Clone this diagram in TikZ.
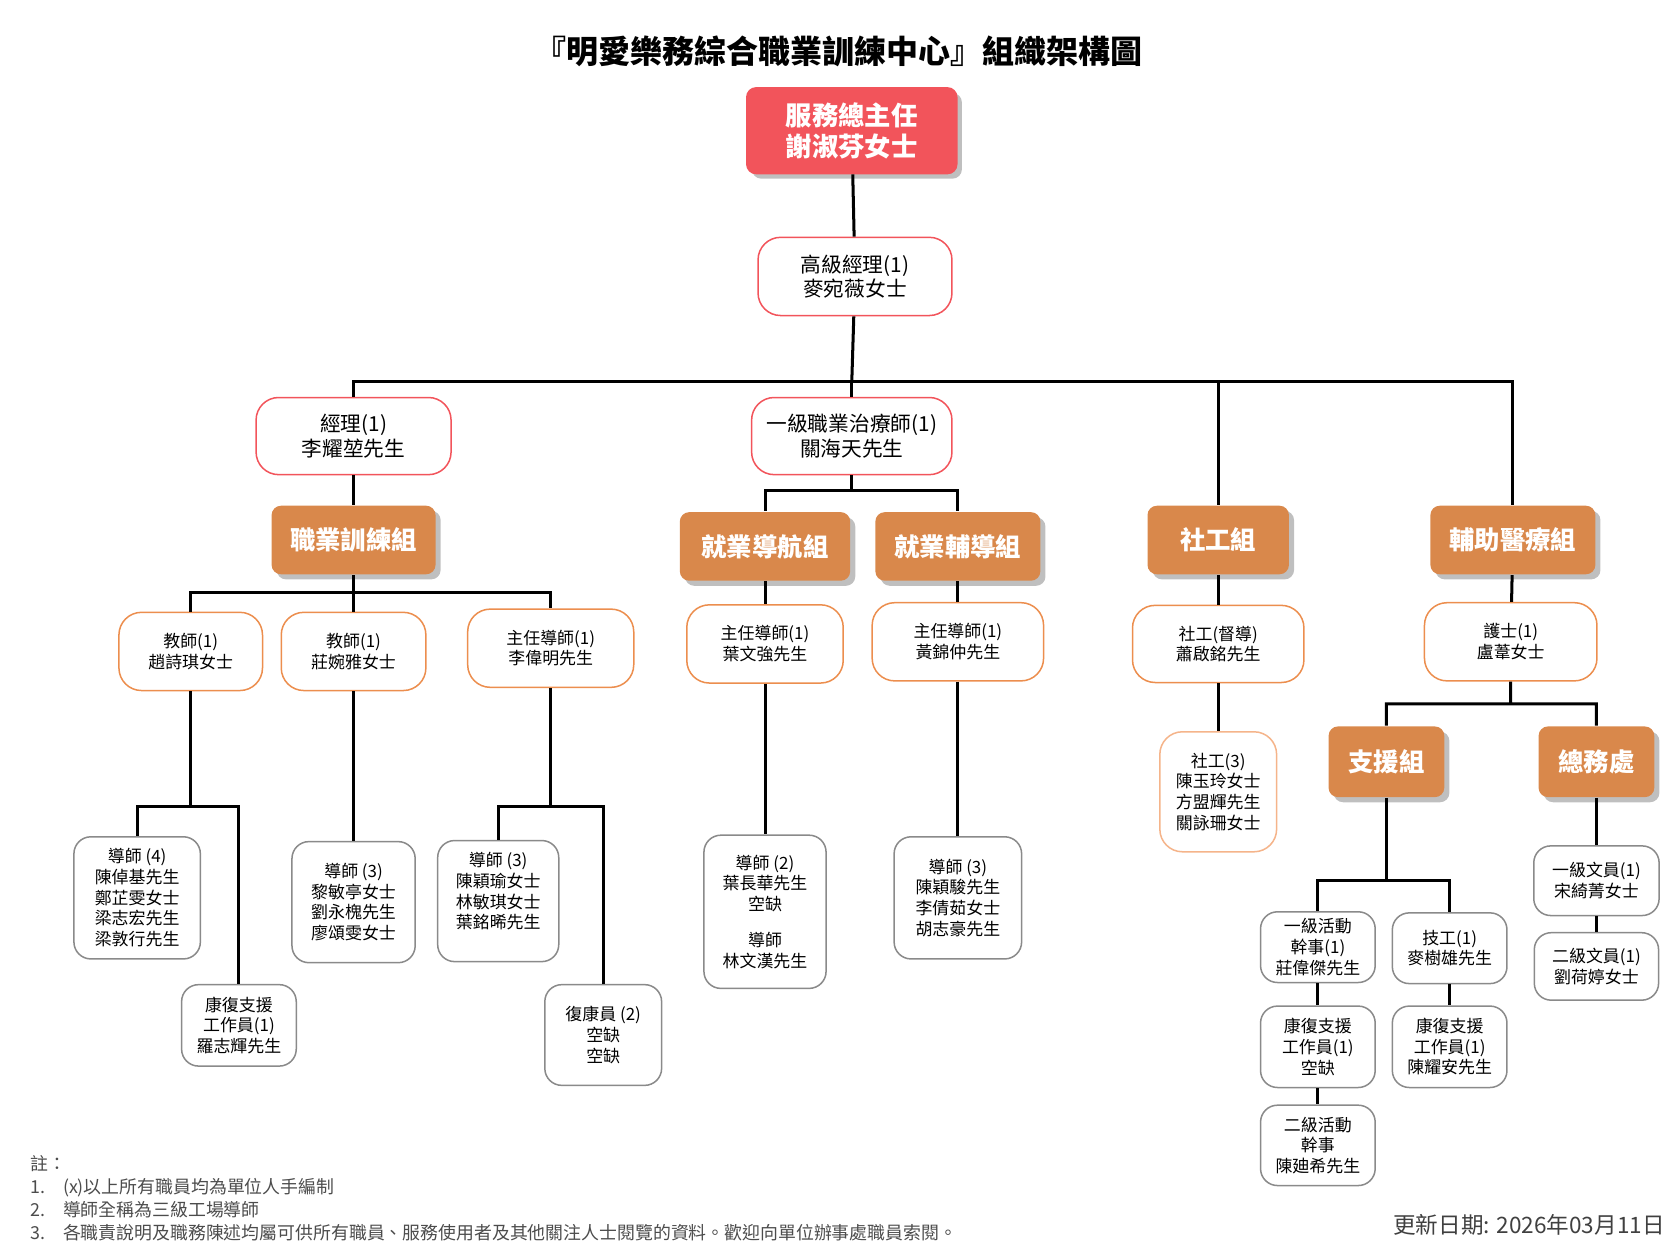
\documentclass[tikz,border=0pt]{standalone}
\usepackage{fontspec}
\setmainfont{Noto Sans CJK TC}
\usetikzlibrary{positioning, shadows}

\definecolor{chief}{HTML}{F2545B}
\definecolor{team}{HTML}{D9884B}
\definecolor{edgeorange}{HTML}{EC8E4E}
\definecolor{edgelight}{HTML}{F5B48A}
\definecolor{edgegray}{HTML}{8A8A8A}

\tikzset{
  box/.style = {draw, fill=white, rounded corners=9pt, align=center, inner sep=2pt,
    font=\fontsize{9}{11}\selectfont, line width=0.8pt},
  chiefbox/.style = {box, draw=chief, fill=chief, text=white, rounded corners=5pt,
    font=\fontsize{14}{16.5}\selectfont\bfseries, drop shadow},
  redbox/.style = {box, draw=chief, font=\fontsize{11}{13}\selectfont, rounded corners=12pt},
  teambox/.style = {box, draw=none, fill=team, text=white, rounded corners=5pt,
    font=\fontsize{13.5}{16}\selectfont\bfseries, drop shadow},
  obox/.style = {box, draw=edgeorange, rounded corners=12pt},
  gbox/.style = {box, draw=edgegray},
  link/.style = {line width=1.6pt}
}

\begin{document}
\begin{tikzpicture}[x=0.02cm, y=-0.02cm]
  \useasboundingbox (0,0) rectangle (1568,1176);

  \node (title) at (783,48) {\fontsize{17}{20}\selectfont\bfseries{}『明愛樂務綜合職業訓練中心』組織架構圖};

  % top
  \node (dir) [chiefbox, minimum width=196*0.02cm, minimum height=80*0.02cm] at (795,122) {服務總主任\\謝淑芬女士};
  \node (sm) [redbox, minimum width=181*0.02cm, minimum height=73*0.02cm] at (798,258) {高級經理(1)\\麥宛薇女士};

  % second level
  \node (mgr) [redbox, minimum width=182*0.02cm, minimum height=72*0.02cm] at (330,407) {經理(1)\\李耀堃先生};
  \node (ot) [redbox, minimum width=187*0.02cm, minimum height=72*0.02cm] at (795,407) {一級職業治療師(1)\\關海天先生};
  \node (vt) [teambox, minimum width=153*0.02cm, minimum height=64*0.02cm] at (330,504) {職業訓練組};
  \node (nav) [teambox, minimum width=159*0.02cm, minimum height=64*0.02cm] at (714,510) {就業導航組};
  \node (emp) [teambox, minimum width=154*0.02cm, minimum height=64*0.02cm] at (894,510) {就業輔導組};
  \node (sw) [teambox, minimum width=132*0.02cm, minimum height=64*0.02cm] at (1137,504) {社工組};
  \node (para) [teambox, minimum width=154*0.02cm, minimum height=64*0.02cm] at (1412,504) {輔助醫療組};

  % 職業訓練組
  \node (tch1) [obox, minimum width=134*0.02cm, minimum height=73*0.02cm] at (178,608) {教師(1)\\趙詩琪女士};
  \node (tch2) [obox, minimum width=135*0.02cm, minimum height=73*0.02cm] at (330,608) {教師(1)\\莊婉雅女士};
  \node (hd1) [obox, minimum width=155*0.02cm, minimum height=73*0.02cm] at (514,605) {主任導師(1)\\李偉明先生};
  \node (in4) [gbox, minimum width=118*0.02cm, minimum height=114*0.02cm] at (128,838) {導師 (4)\\陳倬基先生\\鄭芷雯女士\\梁志宏先生\\梁敦行先生};
  \node (rw1) [gbox, minimum width=107*0.02cm, minimum height=76*0.02cm] at (223,957) {康復支援\\工作員(1)\\羅志輝先生};
  \node (in3a) [gbox, minimum width=115*0.02cm, minimum height=113*0.02cm] at (330,842) {導師 (3)\\黎敏亭女士\\劉永槐先生\\廖頌雯女士};
  \node (in3b) [gbox, minimum width=113*0.02cm, minimum height=113*0.02cm] at (465,841) {導師 (3)\\陳穎瑜女士\\林敏琪女士\\葉銘晞先生\\\mbox{}};
  \node (rc2) [gbox, minimum width=109*0.02cm, minimum height=94*0.02cm] at (563,966) {復康員 (2)\\空缺\\空缺};

  % 就業導航組 / 就業輔導組
  \node (hd2) [obox, minimum width=146*0.02cm, minimum height=73*0.02cm] at (714,601) {主任導師(1)\\葉文強先生};
  \node (in2) [gbox, minimum width=114*0.02cm, minimum height=143*0.02cm] at (714,851) {導師 (2)\\葉長華先生\\空缺\\[8pt]導師\\林文漢先生};
  \node (hd3) [obox, minimum width=160*0.02cm, minimum height=73*0.02cm] at (894,599) {主任導師(1)\\黃錦仲先生};
  \node (in3c) [gbox, minimum width=119*0.02cm, minimum height=114*0.02cm] at (894,838) {導師 (3)\\陳穎駿先生\\李倩茹女士\\胡志豪先生};

  % 社工組
  \node (sws) [obox, minimum width=160*0.02cm, minimum height=72*0.02cm] at (1137,601) {社工(督導)\\蕭啟銘先生};
  \node (sw3) [box, draw=edgelight, rounded corners=12pt, minimum width=109*0.02cm, minimum height=112*0.02cm] at (1137,739) {社工(3)\\陳玉玲女士\\方盟輝先生\\關詠珊女士};

  % 輔助醫療組
  \node (nurse) [obox, minimum width=161*0.02cm, minimum height=73*0.02cm] at (1410,599) {護士(1)\\盧葦女士};
  \node (sup) [teambox, minimum width=108*0.02cm, minimum height=66*0.02cm] at (1294,711) {支援組};
  \node (gen) [teambox, minimum width=108*0.02cm, minimum height=66*0.02cm] at (1490,711) {總務處};
  \node (ac1) [gbox, minimum width=107*0.02cm, minimum height=66*0.02cm] at (1230,884) {一級活動\\幹事(1)\\莊偉傑先生};
  \node (tec) [gbox, minimum width=107*0.02cm, minimum height=66*0.02cm] at (1353,885) {技工(1)\\麥樹雄先生};
  \node (rw2) [gbox, minimum width=107*0.02cm, minimum height=76*0.02cm] at (1230,977) {康復支援\\工作員(1)\\空缺};
  \node (rw3) [gbox, minimum width=107*0.02cm, minimum height=76*0.02cm] at (1353,977) {康復支援\\工作員(1)\\陳耀安先生};
  \node (ac2) [gbox, minimum width=107*0.02cm, minimum height=75*0.02cm] at (1230,1069) {二級活動\\幹事\\陳廸希先生};
  \node (cl1) [gbox, minimum width=117*0.02cm, minimum height=65*0.02cm] at (1490,822) {一級文員(1)\\宋綺菁女士};
  \node (cl2) [gbox, minimum width=116*0.02cm, minimum height=63*0.02cm] at (1490,902) {二級文員(1)\\劉荷婷女士};

  % bus points
  \coordinate (bmain) at (795,356);
  \coordinate (bot) at (795,458);
  \coordinate (bvt) at (330,553);
  \coordinate (bt1) at (178,753);
  \coordinate (bh1) at (514,753);
  \coordinate (bpara) at (1410,657);
  \coordinate (bsup) at (1294,822);

  % links
  \draw [link] (dir) -- (sm);
  \draw [link] (sm) -- (bmain);
  \draw [link] (bmain) -| (mgr) (bmain) -- (ot) (bmain) -| (sw) (bmain) -| (para);
  \draw [link] (mgr) -- (vt);
  \draw [link] (ot) -- (bot) -| (nav) (bot) -| (emp);
  \draw [link] (vt) -- (bvt) -| (tch1) (bvt) -- (tch2) (bvt) -| (hd1);
  \draw [link] (tch1) -- (bt1) -| (in4) (bt1) -| (rw1);
  \draw [link] (tch2) -- (in3a);
  \draw [link] (hd1) -- (bh1) -| (in3b) (bh1) -| (rc2);
  \draw [link] (nav) -- (hd2) -- (in2);
  \draw [link] (emp) -- (hd3) -- (in3c);
  \draw [link] (sw) -- (sws) -- (sw3);
  \draw [link] (para) -- (nurse) -- (bpara) -| (sup) (bpara) -| (gen);
  \draw [link] (sup) -- (bsup) -| (ac1) (bsup) -| (tec);
  \draw [link] (ac1) -- (rw2) -- (ac2);
  \draw [link] (tec) -- (rw3);
  \draw [link] (gen) -- (cl1) -- (cl2);

  % notes
  \node (notes) [anchor=north west, align=left, text=black!70, font=\fontsize{9.5}{12.3}\selectfont] at (22,1072)
    {註：\\1.\quad{}(x)以上所有職員均為單位人手編制\\2.\quad{}導師全稱為三級工場導師\\3.\quad{}各職責說明及職務陳述均屬可供所有職員、服務使用者及其他關注人士閱覽的資料。歡迎向單位辦事處職員索閱。};
  \node (date) [anchor=east, text=black!75, font=\fontsize{12}{14}\selectfont] at (1560,1143) {更新日期: 2026年03月11日};
\end{tikzpicture}
\end{document}
